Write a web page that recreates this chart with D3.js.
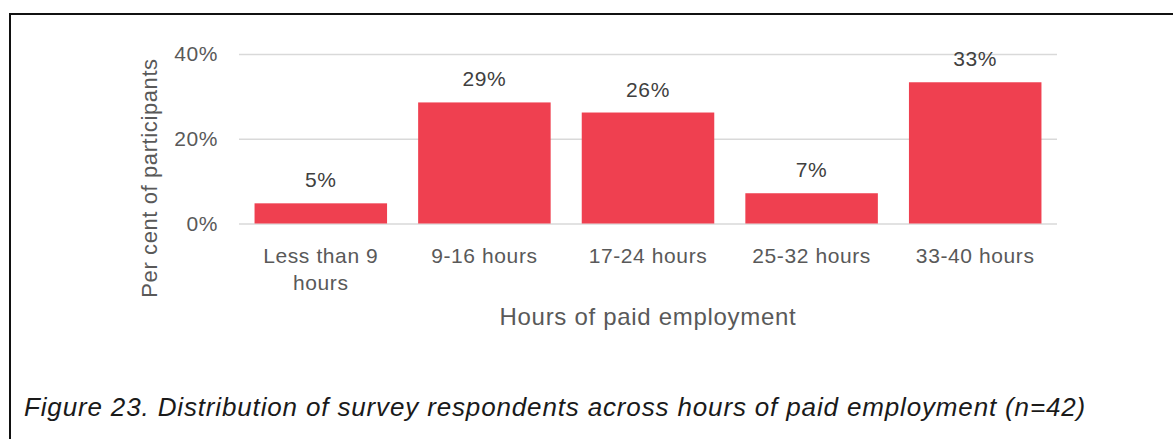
<!DOCTYPE html>
<html>
<head>
<meta charset="utf-8">
<script src="https://cdn.jsdelivr.net/npm/d3@7"></script>
<style>
  html, body { margin: 0; padding: 0; background: #fff; }
  svg { display: block; }
  text { font-family: "Liberation Sans", Arial, sans-serif; }
</style>
</head>
<body>
<svg id="chart" width="1173" height="439"></svg>
<script>
const categories = ["Less than 9 hours", "9-16 hours", "17-24 hours", "25-32 hours", "33-40 hours"];
const categoryLines = [["Less than 9", "hours"], ["9-16 hours"], ["17-24 hours"], ["25-32 hours"], ["33-40 hours"]];
const values = [0.0476, 0.2857, 0.2619, 0.0714, 0.3333];
const valueLabels = ["5%", "29%", "26%", "7%", "33%"];
const yTicks = [0, 0.2, 0.4];
const yTickLabels = ["0%", "20%", "40%"];
const yTitle = "Per cent of participants";
const xTitle = "Hours of paid employment";
const caption = "Figure 23. Distribution of survey respondents across hours of paid employment (n=42)";

const svg = d3.select("#chart");
const W = 1173, H = 439;
const plot = { left: 239, right: 1057, top: 54, bottom: 223.5 };
const FONT = "Liberation Sans, Arial, sans-serif";

// frame: top and left lines
svg.append("line").attr("x1", 10).attr("x2", W + 2).attr("y1", 14).attr("y2", 14)
  .attr("stroke", "#111").attr("stroke-width", 2);
svg.append("line").attr("x1", 10).attr("x2", 10).attr("y1", 13).attr("y2", H + 2)
  .attr("stroke", "#111").attr("stroke-width", 2);

const x = d3.scaleBand().domain(categories).range([plot.left, plot.right])
  .paddingInner(0.19).paddingOuter(0.095);
const y = d3.scaleLinear().domain([0, 0.4]).range([plot.bottom, plot.top]);

// gridlines via axis
const yAxis = d3.axisLeft(y).tickValues(yTicks)
  .tickSize(-(plot.right - plot.left))
  .tickFormat((d, i) => yTickLabels[i]);
const gy = svg.append("g").attr("transform", `translate(${plot.left},0)`).call(yAxis);
gy.select(".domain").remove();
gy.selectAll(".tick line").attr("stroke", "#d9d9d9").attr("stroke-width", 1.5);
gy.selectAll(".tick text").attr("x", -21).attr("font-size", 21).attr("fill", "#595959")
  .attr("letter-spacing", 0.6).attr("font-family", FONT);

// bars
svg.append("g").selectAll("rect").data(categories).join("rect")
  .attr("x", d => x(d))
  .attr("width", x.bandwidth())
  .attr("y", (d, i) => y(values[i]))
  .attr("height", (d, i) => y(0) - y(values[i]))
  .attr("fill", "#ef4050");

// value labels
svg.append("g").selectAll("text").data(categories).join("text")
  .attr("x", d => x(d) + x.bandwidth() / 2)
  .attr("y", (d, i) => y(values[i]) - 16)
  .attr("text-anchor", "middle")
  .attr("font-size", 21)
  .attr("letter-spacing", 0.6)
  .attr("fill", "#404040")
  .text((d, i) => valueLabels[i]);

// x axis labels
const xAxis = d3.axisBottom(x).tickSize(0).tickFormat(() => "");
const gx = svg.append("g").attr("transform", `translate(0,${plot.bottom})`).call(xAxis);
gx.select(".domain").remove();
gx.selectAll(".tick").each(function(d, i) {
  const t = d3.select(this).select("text").text(null)
    .attr("y", 0).attr("dy", null)
    .attr("font-size", 21).attr("fill", "#595959")
    .attr("letter-spacing", 0.6)
    .attr("font-family", FONT);
  categoryLines[i].forEach((line, j) => {
    t.append("tspan").attr("x", 0).attr("y", 39 + j * 27).text(line);
  });
});

// axis titles
svg.append("text")
  .attr("x", (plot.left + plot.right) / 2)
  .attr("y", 325)
  .attr("text-anchor", "middle")
  .attr("font-size", 24)
  .attr("letter-spacing", 0.7)
  .attr("fill", "#595959")
  .text(xTitle);

svg.append("text")
  .attr("transform", `translate(157,178) rotate(-90)`)
  .attr("text-anchor", "middle")
  .attr("font-size", 22)
  .attr("letter-spacing", 0.6)
  .attr("fill", "#595959")
  .text(yTitle);

// caption
svg.append("text")
  .attr("x", 24)
  .attr("y", 416)
  .attr("font-size", 26)
  .attr("font-style", "italic")
  .attr("letter-spacing", 0.85)
  .attr("fill", "#1a1a1a")
  .text(caption);
</script>
</body>
</html>
